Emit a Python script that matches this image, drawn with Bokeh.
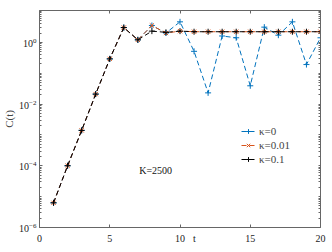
from bokeh.plotting import figure
from bokeh.models import LinearAxis, LogAxis, Legend, LegendItem, Label, FixedTicker, Range1d
from bokeh.embed import file_html
from bokeh.resources import INLINE

t = list(range(1, 21))
c_k0 = [6.3e-6, 1e-4, 1.4e-3, 0.021, 0.29, 3.0, 1.2, 3.5, 2.0, 4.6,
        0.51, 0.023, 1.6, 1.4, 0.039, 3.1, 1.7, 4.6, 0.19, 1.4]
c_k001 = [6.3e-6, 1e-4, 1.4e-3, 0.021, 0.29, 3.0, 1.2, 3.5, 2.0, 2.3,
          2.2, 2.2, 2.2, 2.2, 2.2, 2.2, 2.2, 2.2, 2.2, 2.2]
c_k01 = [6.3e-6, 1e-4, 1.4e-3, 0.021, 0.29, 3.0, 1.2, 2.3, 2.1, 2.3,
         2.2, 2.2, 2.2, 2.2, 2.2, 2.2, 2.2, 2.2, 2.2, 2.2]
labels = ["\u03ba=0", "\u03ba=0.01", "\u03ba=0.1"]
colors = ["#0072BD", "#D95319", "#000000"]
x_ticks = [0, 5, 10, 15, 20]
x_label_pos = 11.03
y_ticks = [1e-6, 1e-4, 1e-2, 1e0]
y_minor = [m * 10.0 ** d for d in range(-6, 2) for m in range(1, 10) if m * 10.0 ** d <= 11]

FONT = "Liberation Serif"
AX = "#666666"

p = figure(frame_width=281, frame_height=217, y_axis_type="log", output_backend="svg",
           toolbar_location=None, x_range=Range1d(0, 20), y_range=Range1d(1e-6, 10 ** 1.03),
           x_axis_location=None, y_axis_location=None)
p.min_border_left = 1
p.min_border_right = 8
p.min_border_top = 10
p.min_border_bottom = 0
p.grid.visible = False
p.outline_line_color = "#bbbbbb"


def style(ax):
    ax.major_label_text_font = FONT
    ax.major_label_text_font_size = "10px"
    ax.major_label_text_color = "#222222"
    ax.axis_line_color = AX
    ax.major_tick_line_color = AX
    ax.minor_tick_line_color = AX
    ax.major_tick_in = 3
    ax.major_tick_out = 0
    ax.minor_tick_in = 2
    ax.minor_tick_out = 0
    ax.major_label_standoff = 3


# bottom: labels (incl. "t"); tick marks drawn as minor ticks so "t" gets none
xb = LinearAxis(ticker=FixedTicker(ticks=x_ticks + [x_label_pos], minor_ticks=x_ticks),
                major_label_overrides={x_label_pos: "t"})
style(xb)
xb.major_tick_line_color = None
xb.minor_tick_in = 3
xb.major_label_standoff = 5
p.add_layout(xb, "below")
# top: tick marks only
xt = LinearAxis(ticker=FixedTicker(ticks=[], minor_ticks=x_ticks))
style(xt)
xt.minor_tick_in = 3
p.add_layout(xt, "above")
# left
yl = LogAxis(ticker=FixedTicker(ticks=y_ticks, minor_ticks=y_minor), axis_label="C(t)")
style(yl)
yl.axis_label_text_font = FONT
yl.axis_label_text_font_style = "normal"
yl.axis_label_text_font_size = "11px"
yl.axis_label_standoff = 1
p.add_layout(yl, "left")
# right: tick marks only
yr = LogAxis(ticker=FixedTicker(ticks=[], minor_ticks=y_minor))
style(yr)
p.add_layout(yr, "right")

renderers = []
markers = ["cross", "x", "cross"]
for ys, col, mk in zip([c_k0, c_k001, c_k01], colors, markers):
    l = p.line(t, ys, line_color=col, line_dash="5 3", line_width=1)
    s = p.scatter(t, ys, marker=mk, size=6, line_color=col, line_width=1)
    renderers.append([l, s])

legend = Legend(items=[LegendItem(label=lab, renderers=r) for lab, r in zip(labels, renderers)],
                location=(202, 62), border_line_color=None, background_fill_alpha=0,
                label_text_font=FONT, label_text_font_size="11px", label_height=12,
                glyph_height=12, glyph_width=14, spacing=2, padding=0, margin=0,
                label_standoff=4)
p.add_layout(legend)

p.add_layout(Label(x=7.1, y=6.8e-5, text="K=2500", text_font=FONT, text_font_size="10px",
                   text_baseline="middle", text_color="#111111"))

out = open("out.html", "w")
out.write(file_html(p, INLINE))
out.close()
